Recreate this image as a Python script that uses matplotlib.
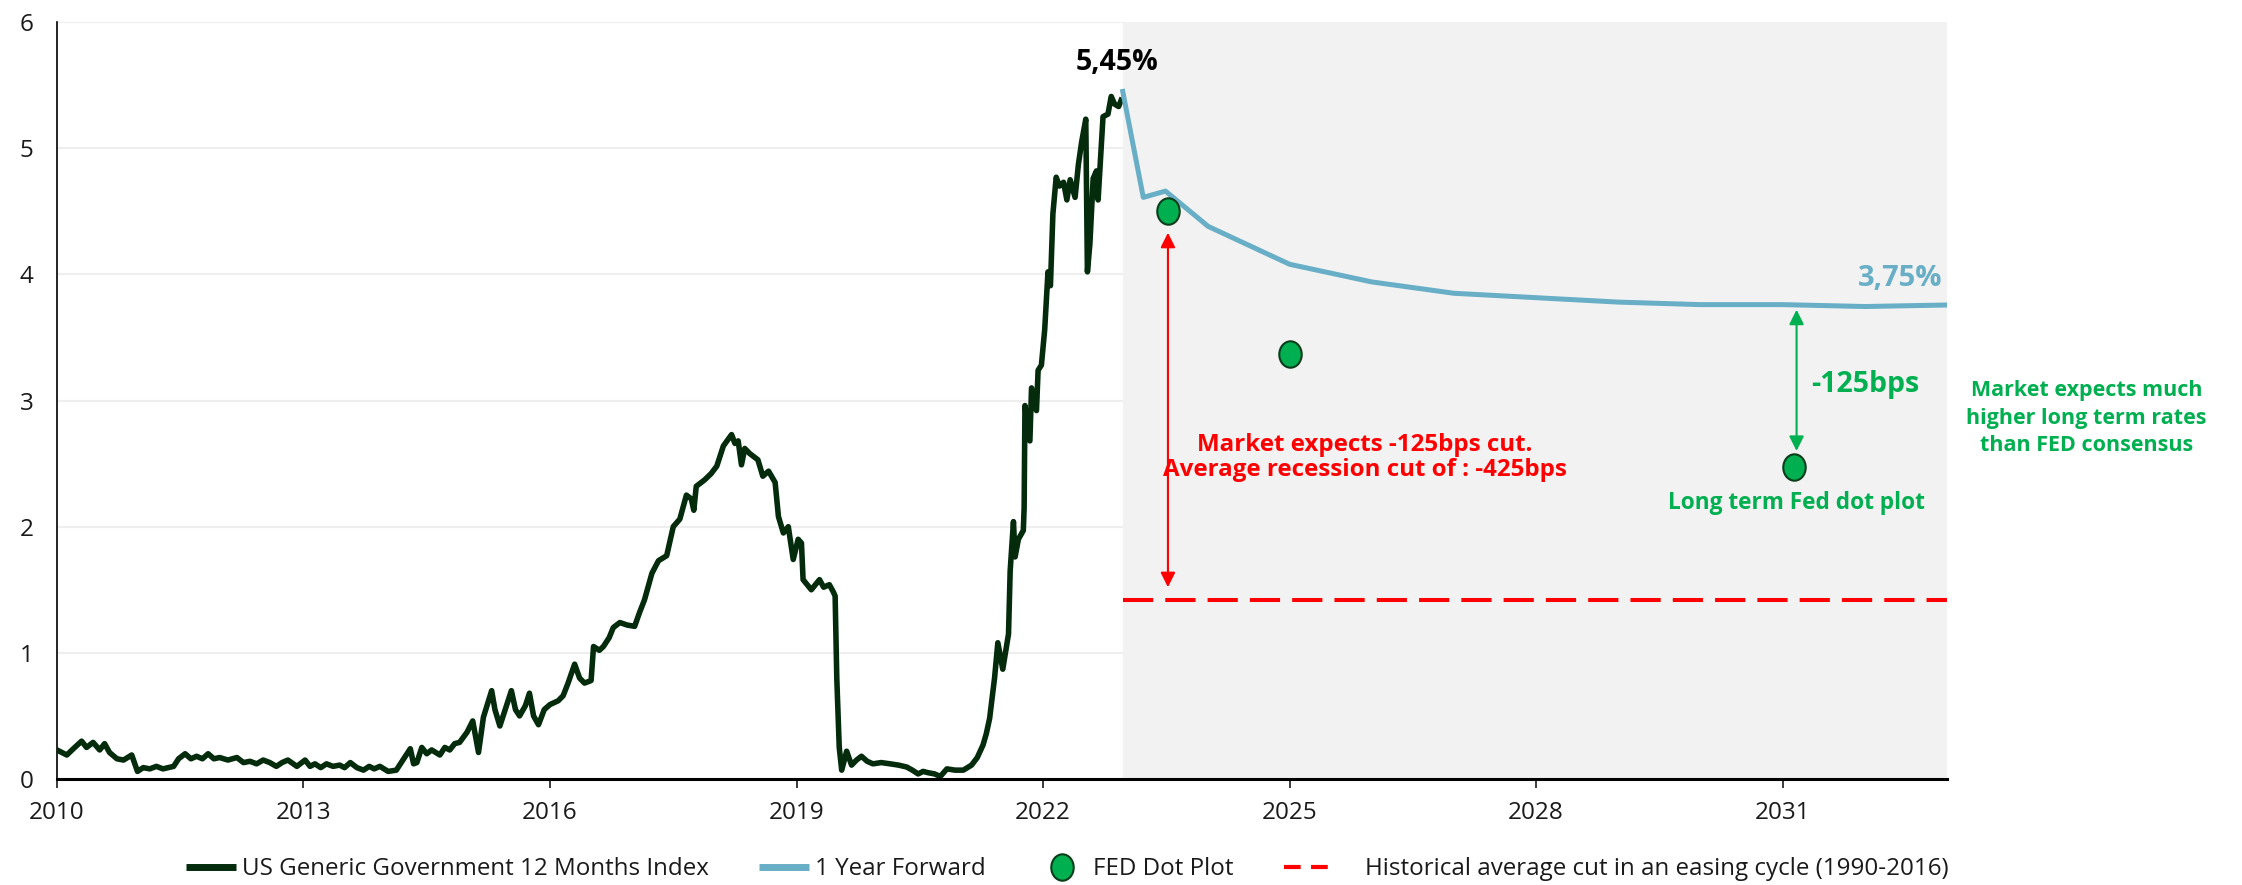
import matplotlib
matplotlib.use("Agg")
import matplotlib.pyplot as plt
from matplotlib.path import Path
from matplotlib.lines import Line2D

plt.rcParams['font.family'] = ['Open Sans', 'DejaVu Sans']

# US Generic Government 12 Months Index (year, %)
hist_x = [2010.00, 2010.12, 2010.20, 2010.30, 2010.36, 2010.44, 2010.52, 2010.58, 2010.64, 2010.73,
          2010.81, 2010.91, 2010.98, 2011.05, 2011.13, 2011.21, 2011.29, 2011.42, 2011.48, 2011.56,
          2011.63, 2011.70, 2011.77, 2011.84, 2011.91, 2011.98, 2012.08, 2012.19, 2012.27, 2012.35,
          2012.43, 2012.51, 2012.59, 2012.67, 2012.74, 2012.81, 2012.92, 2013.02, 2013.08, 2013.14,
          2013.21, 2013.28, 2013.36, 2013.44, 2013.50, 2013.57, 2013.65, 2013.73, 2013.80, 2013.86,
          2013.93, 2014.03, 2014.13, 2014.21, 2014.30, 2014.34, 2014.38, 2014.44, 2014.50, 2014.56,
          2014.66, 2014.72, 2014.78, 2014.84, 2014.90, 2014.99, 2015.06, 2015.13, 2015.19, 2015.29,
          2015.33, 2015.39, 2015.46, 2015.53, 2015.58, 2015.63, 2015.70, 2015.75, 2015.80, 2015.86,
          2015.93, 2016.00, 2016.10, 2016.16, 2016.22, 2016.30, 2016.36, 2016.42, 2016.50, 2016.53,
          2016.60, 2016.65, 2016.72, 2016.77, 2016.85, 2016.94, 2017.03, 2017.09, 2017.15, 2017.24,
          2017.32, 2017.42, 2017.50, 2017.58, 2017.66, 2017.72, 2017.75, 2017.78, 2017.88, 2017.96,
          2018.03, 2018.11, 2018.21, 2018.25, 2018.29, 2018.33, 2018.37, 2018.43, 2018.53, 2018.59,
          2018.66, 2018.74, 2018.78, 2018.84, 2018.90, 2018.96, 2019.02, 2019.06, 2019.08, 2019.18,
          2019.28, 2019.33, 2019.40, 2019.45, 2019.47, 2019.49, 2019.52, 2019.55, 2019.61, 2019.67,
          2019.73, 2019.79, 2019.86, 2019.93, 2020.03, 2020.14, 2020.24, 2020.34, 2020.41, 2020.48,
          2020.54, 2020.60, 2020.68, 2020.75, 2020.83, 2020.93, 2021.03, 2021.13, 2021.20, 2021.27,
          2021.31, 2021.35, 2021.41, 2021.45, 2021.51, 2021.58, 2021.60, 2021.64, 2021.66, 2021.70,
          2021.76, 2021.77, 2021.78, 2021.84, 2021.86, 2021.92, 2021.94, 2021.98, 2022.02, 2022.06,
          2022.09, 2022.12, 2022.16, 2022.20, 2022.25, 2022.29, 2022.33, 2022.39, 2022.43, 2022.47,
          2022.52, 2022.54, 2022.57, 2022.61, 2022.65, 2022.67, 2022.73, 2022.79, 2022.83, 2022.87,
          2022.92, 2022.95]
hist_y = [0.23, 0.19, 0.24, 0.30, 0.25, 0.29, 0.23, 0.28, 0.21, 0.16,
          0.15, 0.19, 0.06, 0.09, 0.08, 0.10, 0.08, 0.10, 0.16, 0.20,
          0.16, 0.18, 0.16, 0.20, 0.16, 0.17, 0.15, 0.17, 0.13, 0.14,
          0.12, 0.15, 0.13, 0.10, 0.13, 0.15, 0.10, 0.15, 0.10, 0.12,
          0.09, 0.12, 0.10, 0.11, 0.09, 0.13, 0.09, 0.07, 0.10, 0.08,
          0.10, 0.06, 0.07, 0.15, 0.24, 0.12, 0.13, 0.25, 0.20, 0.23,
          0.19, 0.25, 0.23, 0.28, 0.29, 0.37, 0.46, 0.21, 0.49, 0.70,
          0.55, 0.42, 0.56, 0.70, 0.55, 0.50, 0.58, 0.68, 0.50, 0.43,
          0.55, 0.59, 0.62, 0.66, 0.76, 0.91, 0.80, 0.76, 0.78, 1.05,
          1.02, 1.05, 1.12, 1.20, 1.24, 1.22, 1.21, 1.32, 1.42, 1.63,
          1.73, 1.77, 2.00, 2.06, 2.25, 2.22, 2.13, 2.32, 2.37, 2.42,
          2.48, 2.64, 2.73, 2.66, 2.68, 2.49, 2.62, 2.58, 2.53, 2.40,
          2.44, 2.35, 2.08, 1.95, 2.00, 1.74, 1.90, 1.87, 1.58, 1.50,
          1.58, 1.52, 1.54, 1.48, 1.45, 0.80, 0.25, 0.07, 0.22, 0.11,
          0.15, 0.18, 0.14, 0.12, 0.13, 0.12, 0.11, 0.095, 0.07, 0.04,
          0.06, 0.05, 0.04, 0.02, 0.08, 0.07, 0.07, 0.11, 0.17, 0.27,
          0.36, 0.48, 0.80, 1.08, 0.87, 1.15, 1.65, 2.04, 1.76, 1.90,
          1.97, 2.15, 2.96, 2.68, 3.10, 2.92, 3.24, 3.28, 3.56, 4.02,
          3.91, 4.48, 4.77, 4.70, 4.73, 4.59, 4.75, 4.61, 4.87, 5.05,
          5.23, 4.02, 4.24, 4.76, 4.82, 4.59, 5.25, 5.27, 5.41, 5.35,
          5.33, 5.38]

# 1 Year Forward curve
fwd_x = [2022.97, 2023.22, 2023.49, 2024.01, 2025.0, 2026.0, 2027.0, 2028.0, 2029.0, 2030.0, 2031.0, 2032.0, 2033.0]
fwd_y = [5.45, 4.61, 4.66, 4.38, 4.08, 3.94, 3.85, 3.815, 3.78, 3.76, 3.76, 3.745, 3.757]

# FED dot plot
dot_x = [2023.52, 2025.01, 2031.14]
dot_y = [4.50, 3.37, 2.47]

hist_avg_cut = 1.42
xticks = [2010, 2013, 2016, 2019, 2022, 2025, 2028, 2031]
yticks = [0, 1, 2, 3, 4, 5, 6]

dark = '#032B0C'
blue = '#67AEC6'
green = '#00B050'
red = '#FF0000'

uc = Path.unit_circle()
ellipse = Path(uc.vertices * [0.85, 1.0], uc.codes)

fig = plt.figure(figsize=(22.42, 8.85), dpi=100)
ax = fig.add_axes([0.0254, 0.1198, 0.8430, 0.8553])

ax.set_axisbelow(True)
ax.yaxis.grid(True, color='#EEEEEE', lw=1.5)
ax.axvspan(fwd_x[0], 2033, color='#F2F2F2', lw=0, zorder=1)

ax.plot(hist_x, hist_y, color=dark, lw=4, zorder=3, solid_joinstyle='round')
ax.plot(fwd_x, fwd_y, color=blue, lw=3.6, zorder=3)
ax.plot(dot_x, dot_y, ls='none', marker=ellipse, markersize=19, markerfacecolor=green,
        markeredgecolor='#0B3D1A', markeredgewidth=1.5, zorder=4)
ax.plot([fwd_x[0], 2033], [hist_avg_cut, hist_avg_cut], color=red, lw=2.9, dashes=(7.5, 3), zorder=3)

# arrows
ax.annotate('', xy=(2023.52, 4.33), xytext=(2023.52, 1.52),
            arrowprops=dict(arrowstyle='<|-|>', color=red, lw=1.5, mutation_scale=22, shrinkA=0, shrinkB=0), zorder=5)
ax.annotate('', xy=(2031.17, 3.72), xytext=(2031.17, 2.60),
            arrowprops=dict(arrowstyle='<|-|>', color=green, lw=1.5, mutation_scale=22, shrinkA=0, shrinkB=0), zorder=5)

# annotations
ax.text(2022.9, 5.68, '5,45%', color='black', fontsize=20.5, fontweight='bold', ha='center', va='center')
ax.text(2032.95, 3.97, '3,75%', color=blue, fontsize=21, fontweight='bold', ha='right', va='center')
ax.text(2032.0, 3.13, '-125bps', color=green, fontsize=20.5, fontweight='bold', ha='center', va='center')
ax.text(2025.92, 2.55, 'Market expects -125bps cut.\nAverage recession cut of : -425bps', color=red,
        fontsize=17.4, fontweight='bold', ha='center', va='center', linespacing=1.05)
ax.text(2031.17, 2.19, 'Long term Fed dot plot', color=green, fontsize=16.3, fontweight='bold',
        ha='center', va='center')
ax.text(2034.7, 2.86, 'Market expects much\nhigher long term rates\nthan FED consensus', color=green,
        fontsize=15.5, fontweight='bold', ha='center', va='center', linespacing=1.4, clip_on=False)

ax.set_xlim(2010, 2033)
ax.set_ylim(0, 6)
ax.set_xticks(xticks)
ax.set_yticks(yticks)
ax.tick_params(axis='x', length=6.3, width=1.2, pad=9.5, labelsize=17.5, colors='#1a1a1a')
ax.tick_params(axis='y', length=0, pad=17, labelsize=17.5, colors='#1a1a1a')
for s in ['top', 'right']:
    ax.spines[s].set_visible(False)
ax.spines['left'].set_linewidth(1.2)
ax.spines['bottom'].set_linewidth(2.2)
ax.spines['bottom'].set_zorder(5)

handles = [
    Line2D([], [], color=dark, lw=5, solid_capstyle='butt'),
    Line2D([], [], color=blue, lw=5, solid_capstyle='butt'),
    Line2D([], [], ls='none', marker=ellipse, markersize=19, markerfacecolor=green,
           markeredgecolor='#0B3D1A', markeredgewidth=1.5),
    Line2D([], [], color=red, lw=3, dashes=(4, 2.5)),
]
labels = ['US Generic Government 12 Months Index', '1 Year Forward', 'FED Dot Plot',
          '    Historical average cut in an easing cycle (1990-2016)']
fig.legend(handles, labels, loc='center', bbox_to_anchor=(0.476, 0.018), ncol=4, frameon=False,
           fontsize=17.4, handlelength=2.07, handletextpad=0.25, columnspacing=2.1, labelcolor='#1a1a1a')

fig.savefig('out.png', dpi=100)
